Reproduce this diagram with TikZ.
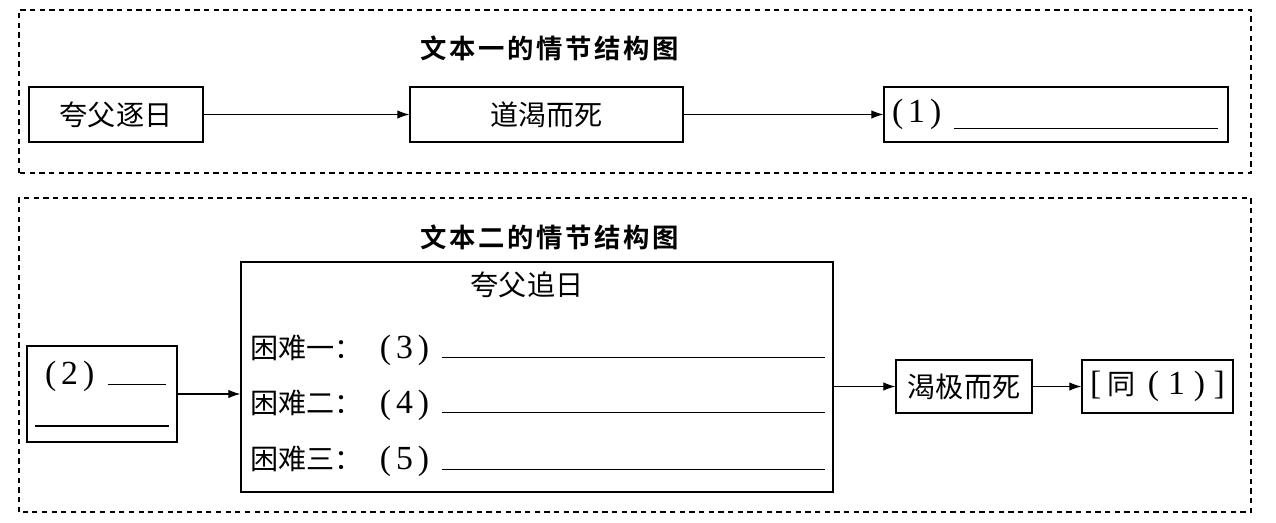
\documentclass[tikz,border=0pt]{standalone}
\usepackage{fontspec}
\usetikzlibrary{arrows.meta}
\setmainfont{Noto Sans CJK SC}
\newfontfamily\numfont{Liberation Serif}[Scale=1.2]
\newfontfamily\headfont{Noto Sans CJK SC Bold}[LetterSpace=10]
\newcommand{\numlabel}[1]{{\numfont(\hspace{0.1cm}#1\hspace{0.1cm})}}
\newcommand{\blankline}[2][0pt]{\rule[#1]{#2}{0.6pt}}

\begin{document}
\begin{tikzpicture}[
  block/.style={rectangle, draw, thick, minimum height=1.1cm, inner sep=0.16cm},
  dashframe/.style={draw, dash pattern=on 3pt off 2.5pt, line width=0.6pt},
  headline/.style={font=\headfont\fontsize{15}{17}\selectfont},
  hardrow/.style={anchor=west, inner sep=0pt},
  link/.style={-{Latex[length=2.4mm,width=1.7mm]}, semithick},
  font=\fontsize{16}{18}\selectfont
]
\useasboundingbox (0,0) rectangle (25.52,10.44);

% text one
\draw[dashframe] (0.38,6.98) rectangle (25.02,10.24);
\node[headline] (head1) at (11.0,9.48) {文本一的情节结构图};
\node[block, minimum width=3.48cm] (chase1) at (2.32,8.15) {夸父逐日};
\node[block, minimum width=5.46cm, right of=chase1, node distance=8.61cm] (thirst1) {道渴而死};
\node[block, text width=6.56cm, align=left, right of=thirst1, node distance=10.19cm] (end1)
  {\numlabel{1}\hspace{0.26cm}\blankline[-0.12cm]{5.28cm}};

\draw[link] (chase1) -- (thirst1);
\draw[link] (thirst1) -- (end1);

% text two
\draw[dashframe] (0.38,0.20) rectangle (25.02,6.48);
\node[headline] (head2) at (11.0,5.70) {文本二的情节结构图};
\node[block, minimum width=3.0cm, minimum height=1.92cm, text width=2.68cm, align=left] (start) at (2.04,2.56)
  {\hspace*{0.2cm}\numlabel{2}\hspace{0.28cm}\blankline{1.16cm}\\[0.2cm]\blankline{2.68cm}};
\node[block, minimum width=11.84cm, minimum height=4.6cm] (chase2) at (10.74,2.90) {};
\node (chasehead) at (10.54,4.74) {夸父追日};
\node[hardrow] (hard1) at (5.00,3.44) {困难一：\hspace{0.34cm}\numlabel{3}\hspace{0.26cm}\blankline{7.66cm}};
\node[hardrow] (hard2) at (5.00,2.34) {困难二：\hspace{0.34cm}\numlabel{4}\hspace{0.26cm}\blankline{7.66cm}};
\node[hardrow] (hard3) at (5.00,1.21) {困难三：\hspace{0.34cm}\numlabel{5}\hspace{0.26cm}\blankline{7.66cm}};
\node[block, minimum width=2.72cm, minimum height=1.06cm] (thirst2) at (19.28,2.71) {渴极而死};
\node[block, minimum width=3.02cm, minimum height=1.06cm, right of=thirst2, node distance=3.87cm] (same)
  {{\numfont[}\hspace{0.12cm}同\hspace{0.25cm}{\numfont(\hspace{0.18cm}1\hspace{0.18cm})}\hspace{0.17cm}{\numfont]}};

\draw[link] (start.east) -- (start.east -| chase2.west);
\draw[link] (thirst2.west -| chase2.east) -- (thirst2.west);
\draw[link] (thirst2) -- (same);
\end{tikzpicture}
\end{document}
